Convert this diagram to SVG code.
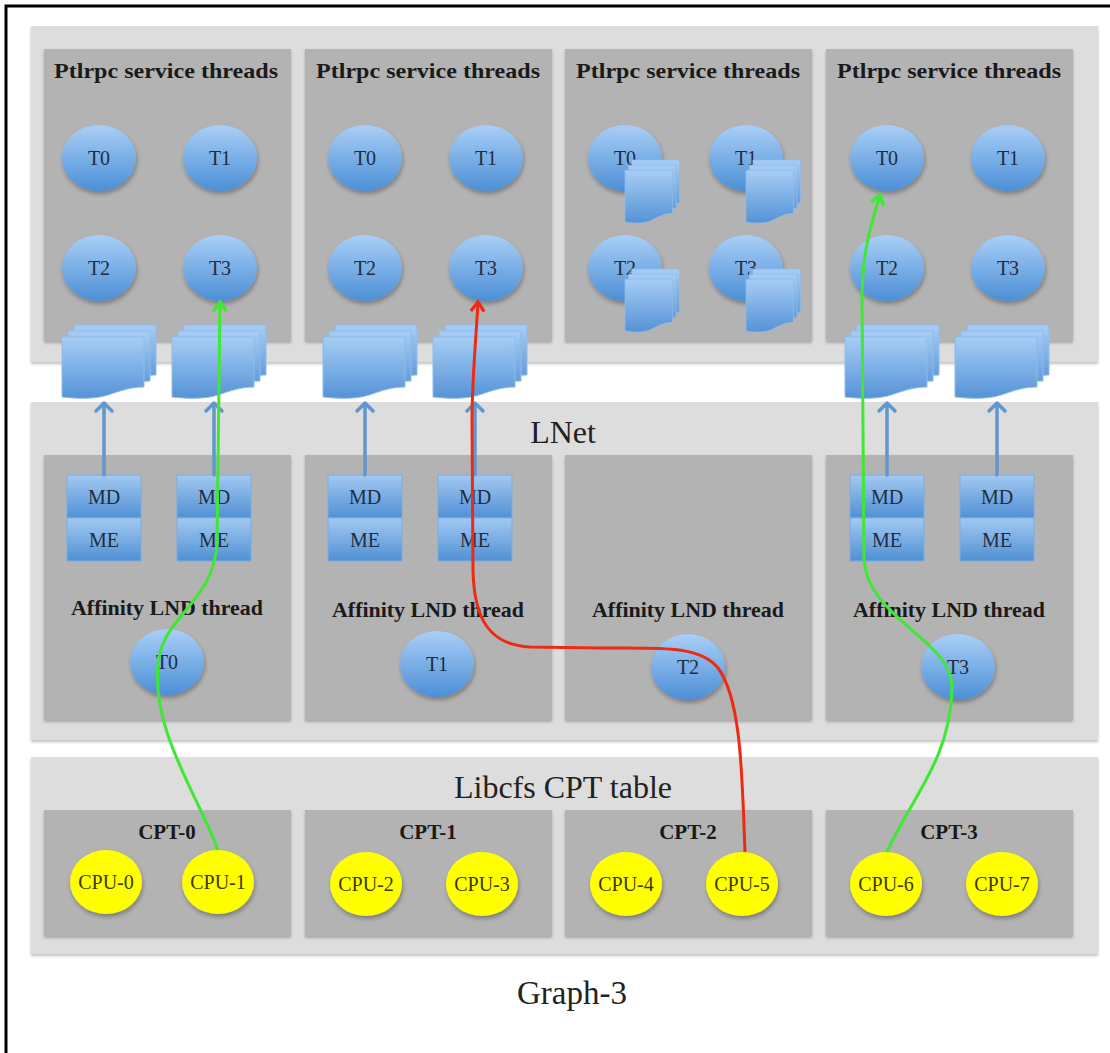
<svg xmlns="http://www.w3.org/2000/svg" width="1110" height="1053" viewBox="0 0 1110 1053">
<defs>
<style>
.outer{fill:#dddddd;filter:url(#sh)}
.inner{fill:#b3b3b3;filter:url(#sh)}
.ptitle{font-family:"Liberation Serif",serif;font-weight:bold;font-size:21px;fill:#1a1a1a;text-anchor:middle}
.big{font-family:"Liberation Serif",serif;font-size:32px;fill:#222;text-anchor:middle}
.tc{fill:url(#gb);filter:url(#sh2)}
.tl{font-family:"Liberation Serif",serif;font-size:20px;fill:#1f2d40;text-anchor:middle}
.cpu{fill:#ffff00;filter:url(#sh2)}
.cl{font-family:"Liberation Serif",serif;font-size:20px;fill:#3a3a00;text-anchor:middle}
.box{fill:url(#gm);stroke:#7aaee3;stroke-width:1}
.sheet{fill:url(#gs);stroke:#8fbbea;stroke-width:1}
.barrow{stroke:#6196cf;stroke-width:3.5;fill:none;stroke-linecap:round;stroke-linejoin:round}
.green{stroke:#3fe832;stroke-width:3;fill:none;marker-end:url(#mg)}
.red{stroke:#ee2b12;stroke-width:3;fill:none;marker-end:url(#mr)}
</style>
<filter id="sh" x="-5%" y="-5%" width="110%" height="115%"><feDropShadow dx="0" dy="2" stdDeviation="1.5" flood-color="#000" flood-opacity="0.25"/></filter>
<filter id="sh2" x="-20%" y="-20%" width="140%" height="150%"><feDropShadow dx="1" dy="3" stdDeviation="2" flood-color="#000" flood-opacity="0.3"/></filter>
<linearGradient id="gb" x1="0" y1="0" x2="0" y2="1"><stop offset="0" stop-color="#a9cff7"/><stop offset="1" stop-color="#4c8fd6"/></linearGradient>
<linearGradient id="gm" x1="0" y1="0" x2="0" y2="1"><stop offset="0" stop-color="#a3c9f2"/><stop offset="1" stop-color="#5090d4"/></linearGradient>
<linearGradient id="gs" x1="0" y1="0" x2="0" y2="1"><stop offset="0" stop-color="#a7cdf5"/><stop offset="1" stop-color="#5593d6"/></linearGradient>
<marker id="mg" viewBox="0 0 12 12" refX="10" refY="6" markerWidth="16" markerHeight="16" orient="auto" markerUnits="userSpaceOnUse"><path d="M3,1 L10,6 L3,11" fill="none" stroke="#3fe832" stroke-width="2.5"/></marker>
<marker id="mr" viewBox="0 0 12 12" refX="10" refY="6" markerWidth="16" markerHeight="16" orient="auto" markerUnits="userSpaceOnUse"><path d="M3,1 L10,6 L3,11" fill="none" stroke="#ee2b12" stroke-width="2.5"/></marker>
<g id="stack">
<path class="sheet" d="M12,0 H94 V50 C80,50 70,54 58,58 C46,62 30,62 12,60 Z"/>
<path class="sheet" d="M6,6 H88 V56 C74,56 64,60 52,64 C40,68 24,68 6,66 Z"/>
<path class="sheet" d="M0,12 H82 V62 C68,62 58,66 46,70 C34,74 18,74 0,72 Z"/>
</g>
</defs>
<rect width="1110" height="1053" fill="#ffffff"/>
<path d="M6,1053 V6 H1110" fill="none" stroke="#000" stroke-width="3"/>

<g id="ptlrpc-layer">
<rect class="outer" x="31" y="26" width="1067" height="336"/>
</g>
<g id="lnet-layer">
<rect class="outer" x="31" y="402" width="1067" height="338"/>
<text class="big" x="563" y="443">LNet</text>
</g>
<g id="libcfs-layer">
<rect class="outer" x="31" y="757" width="1067" height="197"/>
<text class="big" x="563" y="798">Libcfs CPT table</text>
</g>

<g id="ptlrpc-0">
<rect class="inner" x="44" y="49" width="247" height="292"/>
<text class="ptitle" x="166" y="78" textLength="224" lengthAdjust="spacingAndGlyphs">Ptlrpc service threads</text>
<ellipse class="tc" cx="99" cy="158" rx="37" ry="33"/><text class="tl" x="99" y="165">T0</text>
<ellipse class="tc" cx="220" cy="158" rx="37" ry="33"/><text class="tl" x="220" y="165">T1</text>
<ellipse class="tc" cx="99" cy="268" rx="37" ry="33"/><text class="tl" x="99" y="275">T2</text>
<ellipse class="tc" cx="220" cy="268" rx="37" ry="33"/><text class="tl" x="220" y="275">T3</text>
<use href="#stack" x="62" y="325"/>
<use href="#stack" x="172" y="325"/>
</g>
<g id="ptlrpc-1">
<rect class="inner" x="305" y="49" width="247" height="292"/>
<text class="ptitle" x="428" y="78" textLength="224" lengthAdjust="spacingAndGlyphs">Ptlrpc service threads</text>
<ellipse class="tc" cx="365" cy="158" rx="37" ry="33"/><text class="tl" x="365" y="165">T0</text>
<ellipse class="tc" cx="486" cy="158" rx="37" ry="33"/><text class="tl" x="486" y="165">T1</text>
<ellipse class="tc" cx="365" cy="268" rx="37" ry="33"/><text class="tl" x="365" y="275">T2</text>
<ellipse class="tc" cx="486" cy="268" rx="37" ry="33"/><text class="tl" x="486" y="275">T3</text>
<use href="#stack" x="323" y="325"/>
<use href="#stack" x="433" y="325"/>
</g>
<g id="ptlrpc-2">
<rect class="inner" x="565" y="49" width="247" height="292"/>
<text class="ptitle" x="688" y="78" textLength="224" lengthAdjust="spacingAndGlyphs">Ptlrpc service threads</text>
<ellipse class="tc" cx="625" cy="158" rx="37" ry="33"/><text class="tl" x="625" y="165">T0</text>
<ellipse class="tc" cx="746" cy="158" rx="37" ry="33"/><text class="tl" x="746" y="165">T1</text>
<ellipse class="tc" cx="625" cy="268" rx="37" ry="33"/><text class="tl" x="625" y="275">T2</text>
<ellipse class="tc" cx="746" cy="268" rx="37" ry="33"/><text class="tl" x="746" y="275">T3</text>
<use href="#stack" transform="translate(625,160) scale(0.58,0.86)"/>
<use href="#stack" transform="translate(746,160) scale(0.58,0.86)"/>
<use href="#stack" transform="translate(625,269) scale(0.58,0.86)"/>
<use href="#stack" transform="translate(746,269) scale(0.58,0.86)"/>
</g>
<g id="ptlrpc-3">
<rect class="inner" x="826" y="49" width="247" height="292"/>
<text class="ptitle" x="949" y="78" textLength="224" lengthAdjust="spacingAndGlyphs">Ptlrpc service threads</text>
<ellipse class="tc" cx="887" cy="158" rx="37" ry="33"/><text class="tl" x="887" y="165">T0</text>
<ellipse class="tc" cx="1008" cy="158" rx="37" ry="33"/><text class="tl" x="1008" y="165">T1</text>
<ellipse class="tc" cx="887" cy="268" rx="37" ry="33"/><text class="tl" x="887" y="275">T2</text>
<ellipse class="tc" cx="1008" cy="268" rx="37" ry="33"/><text class="tl" x="1008" y="275">T3</text>
<use href="#stack" x="845" y="325"/>
<use href="#stack" x="955" y="325"/>
</g>

<g id="lnet-0">
<rect class="inner" x="44" y="455" width="247" height="265"/>
<rect class="box" x="67" y="475" width="74" height="43"/><text class="tl" x="104" y="504">MD</text>
<rect class="box" x="67" y="518" width="74" height="43"/><text class="tl" x="104" y="547">ME</text>
<rect class="box" x="177" y="475" width="74" height="43"/><text class="tl" x="214" y="504">MD</text>
<rect class="box" x="177" y="518" width="74" height="43"/><text class="tl" x="214" y="547">ME</text>
<text class="ptitle" x="167" y="615" textLength="192" lengthAdjust="spacingAndGlyphs">Affinity LND thread</text>
<ellipse class="tc" cx="167" cy="662" rx="37" ry="33"/><text class="tl" x="167" y="669">T0</text>
</g>
<g id="lnet-1">
<rect class="inner" x="305" y="455" width="247" height="265"/>
<rect class="box" x="328" y="475" width="74" height="43"/><text class="tl" x="365" y="504">MD</text>
<rect class="box" x="328" y="518" width="74" height="43"/><text class="tl" x="365" y="547">ME</text>
<rect class="box" x="438" y="475" width="74" height="43"/><text class="tl" x="475" y="504">MD</text>
<rect class="box" x="438" y="518" width="74" height="43"/><text class="tl" x="475" y="547">ME</text>
<text class="ptitle" x="428" y="617" textLength="192" lengthAdjust="spacingAndGlyphs">Affinity LND thread</text>
<ellipse class="tc" cx="437" cy="664" rx="37" ry="33"/><text class="tl" x="437" y="671">T1</text>
</g>
<g id="lnet-2">
<rect class="inner" x="565" y="455" width="247" height="265"/>
<text class="ptitle" x="688" y="617" textLength="192" lengthAdjust="spacingAndGlyphs">Affinity LND thread</text>
<ellipse class="tc" cx="688" cy="667" rx="37" ry="33"/><text class="tl" x="688" y="674">T2</text>
</g>
<g id="lnet-3">
<rect class="inner" x="826" y="455" width="247" height="265"/>
<rect class="box" x="850" y="475" width="74" height="43"/><text class="tl" x="887" y="504">MD</text>
<rect class="box" x="850" y="518" width="74" height="43"/><text class="tl" x="887" y="547">ME</text>
<rect class="box" x="960" y="475" width="74" height="43"/><text class="tl" x="997" y="504">MD</text>
<rect class="box" x="960" y="518" width="74" height="43"/><text class="tl" x="997" y="547">ME</text>
<text class="ptitle" x="949" y="617" textLength="192" lengthAdjust="spacingAndGlyphs">Affinity LND thread</text>
<ellipse class="tc" cx="958" cy="667" rx="37" ry="33"/><text class="tl" x="958" y="674">T3</text>
</g>

<g id="cpt-0">
<rect class="inner" x="44" y="810" width="247" height="126"/>
<text class="ptitle" x="167" y="839">CPT-0</text>
<ellipse class="cpu" cx="106" cy="882" rx="36" ry="32"/><text class="cl" x="106" y="889">CPU-0</text>
<ellipse class="cpu" cx="218" cy="882" rx="36" ry="32"/><text class="cl" x="218" y="889">CPU-1</text>
</g>
<g id="cpt-1">
<rect class="inner" x="305" y="810" width="247" height="126"/>
<text class="ptitle" x="428" y="839">CPT-1</text>
<ellipse class="cpu" cx="366" cy="884" rx="36" ry="32"/><text class="cl" x="366" y="891">CPU-2</text>
<ellipse class="cpu" cx="482" cy="884" rx="36" ry="32"/><text class="cl" x="482" y="891">CPU-3</text>
</g>
<g id="cpt-2">
<rect class="inner" x="565" y="810" width="247" height="126"/>
<text class="ptitle" x="688" y="839">CPT-2</text>
<ellipse class="cpu" cx="626" cy="884" rx="36" ry="32"/><text class="cl" x="626" y="891">CPU-4</text>
<ellipse class="cpu" cx="742" cy="884" rx="36" ry="32"/><text class="cl" x="742" y="891">CPU-5</text>
</g>
<g id="cpt-3">
<rect class="inner" x="826" y="810" width="247" height="126"/>
<text class="ptitle" x="949" y="839">CPT-3</text>
<ellipse class="cpu" cx="886" cy="884" rx="36" ry="32"/><text class="cl" x="886" y="891">CPU-6</text>
<ellipse class="cpu" cx="1002" cy="884" rx="36" ry="32"/><text class="cl" x="1002" y="891">CPU-7</text>
</g>

<g id="connectors">
<path class="barrow" d="M104,475 V403 M96,411 L104,403 L112,411"/>
<path class="barrow" d="M214,475 V403 M206,411 L214,403 L222,411"/>
<path class="barrow" d="M365,475 V403 M357,411 L365,403 L373,411"/>
<path class="barrow" d="M475,475 V403 M467,411 L475,403 L483,411"/>
<path class="barrow" d="M887,475 V403 M879,411 L887,403 L895,411"/>
<path class="barrow" d="M997,475 V403 M989,411 L997,403 L1005,411"/>
<path class="green" d="M218,850 C195,790 152,730 158,665 C162,615 212,605 217,545 L220,302"/>
<path class="red" d="M745,852 C742,780 742,700 718,668 C700,645 660,648 600,648 L530,647 C490,645 474,620 473,570 L472,420 C472,380 476,340 478,302"/>
<path class="green" d="M887,852 C910,800 950,760 952,690 C955,640 868,620 864,560 L862,300 C862,250 872,222 880,195"/>
</g>
<text x="572" y="1004" font-family="'Liberation Serif',serif" font-size="33" fill="#222" text-anchor="middle">Graph-3</text>
</svg>
